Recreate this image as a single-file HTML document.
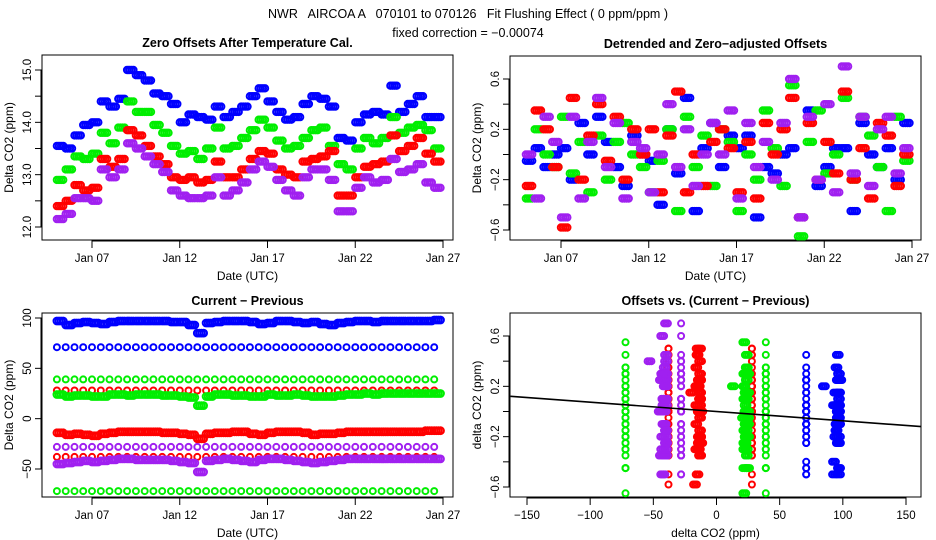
<!DOCTYPE html>
<html><head><meta charset="utf-8"><style>
html,body{margin:0;padding:0;background:#fff;}
svg{display:block;font-family:"Liberation Sans",sans-serif;}
</style></head><body>
<svg id="chart" width="936" height="540" viewBox="0 0 936 540" xmlns="http://www.w3.org/2000/svg">
<rect width="936" height="540" fill="#fff"/>
<text x="468" y="18" text-anchor="middle" font-size="12.5" xml:space="preserve">NWR   AIRCOA A   070101 to 070126   Fit Flushing Effect ( 0 ppm/ppm )</text>
<text x="468" y="37" text-anchor="middle" font-size="12.5">fixed correction = −0.00074</text>
<g id="layer"></g>
</svg>
<script>
// time axis (days of January) and data
const times = [5,5.5,6,6.5,7,7.5,8,8.5,9,9.5,10,10.5,11,11.5,12,12.5,13,13.5,14,14.5,15,15.5,16,16.5,17,17.5,18,18.5,19,19.5,20,20.5,21,21.5,22,22.5,23,23.5,24,24.5,25,25.5,26,26.5];
const offBlue = [13.55,13.5,13.75,13.95,14.0,14.4,14.3,14.45,15.0,14.9,14.8,14.55,14.5,14.35,14.0,14.15,14.1,14.05,14.3,14.1,14.2,14.3,14.5,14.65,14.4,14.2,14.05,14.1,14.35,14.5,14.45,14.3,13.7,13.65,14.0,14.15,14.2,14.15,14.7,14.2,14.35,14.5,14.1,14.1];
const offGreen = [12.9,13.1,13.35,13.3,13.4,13.8,13.6,13.9,14.4,14.2,14.2,13.95,13.8,13.55,13.4,13.45,13.3,13.5,13.9,13.5,13.55,13.7,13.85,14.05,13.9,13.65,13.5,13.55,13.7,13.85,13.9,13.55,13.2,13.1,13.5,13.7,13.6,13.7,14.1,13.8,13.9,13.95,13.85,13.5];
const offRed = [12.4,12.5,12.8,12.7,12.75,13.3,13.15,13.3,13.85,13.75,13.55,13.35,13.2,12.95,12.9,12.95,12.85,12.9,13.25,12.95,12.95,13.1,13.3,13.45,13.4,13.1,13.0,12.95,13.25,13.3,13.35,13.45,12.6,12.6,12.95,13.15,13.2,13.25,13.75,13.45,13.55,13.7,13.4,13.25];
const offPurple = [12.15,12.25,12.55,12.55,12.5,13.1,12.95,13.1,13.6,13.5,13.35,13.2,13.05,12.7,12.6,12.55,12.55,12.6,12.95,12.6,12.7,12.85,13.1,13.25,13.15,12.9,12.7,12.6,12.95,13.1,13.1,12.9,12.3,12.3,12.75,12.95,12.85,12.9,13.3,13.05,13.1,13.2,12.85,12.75];
const detBlue = [-0.05,0.05,-0.1,0.0,0.05,-0.2,0.25,0.0,0.3,0.1,-0.1,-0.25,0.15,0.0,-0.05,-0.4,0.2,-0.15,0.45,-0.45,0.05,0.25,-0.1,0.15,0.05,0.15,-0.5,-0.1,-0.15,0.0,0.05,-0.5,0.35,-0.25,-0.1,0.05,0.05,-0.45,0.25,0.0,-0.1,0.05,-0.2,0.25];
const detGreen = [-0.35,0.2,0.0,-0.1,0.3,-0.15,0.1,-0.3,0.15,-0.2,0.1,0.25,0.0,-0.1,-0.3,-0.05,0.2,-0.45,0.3,-0.1,0.15,-0.25,0.2,0.1,-0.45,0.0,-0.2,0.35,0.05,-0.25,0.55,-0.65,0.1,0.35,-0.15,0.0,0.45,-0.2,0.3,0.15,-0.1,-0.45,0.3,-0.05];
const detRed = [-0.25,0.35,0.2,-0.1,-0.58,0.45,-0.2,0.15,0.4,-0.05,0.3,-0.2,0.2,0.0,0.2,-0.3,0.15,0.5,-0.3,0.0,-0.25,0.1,0.2,0.05,-0.3,0.1,-0.35,0.25,0.0,0.2,0.45,-0.5,0.25,-0.2,0.1,-0.15,0.5,-0.2,0.05,-0.35,0.25,0.15,-0.25,0.0];
const detPurple = [0.0,-0.35,0.3,0.1,-0.5,0.3,-0.35,0.1,0.45,-0.1,0.25,-0.35,0.1,0.05,-0.3,0.0,0.4,-0.1,0.2,-0.25,0.0,0.25,0.0,0.35,-0.35,0.25,-0.1,0.1,-0.2,0.25,0.6,-0.5,0.3,-0.2,0.4,-0.3,0.7,-0.15,0.3,-0.25,0.2,0.3,-0.15,0.05];
const diffBlueHigh = [97,93,95,96,95,94,96,97,97,97,97,97,97,96,96,93,85,95,96,97,97,97,96,94,95,97,97,96,95,96,94,93,95,96,97,97,96,97,97,97,97,97,97,98];
const diffGreenMid = [24,22,23,23,22,22,24,24,23,24,24,24,23,23,22,21,13,22,24,24,23,23,22,22,24,23,23,24,23,22,22,22,23,24,24,25,24,25,25,25,25,25,25,25];
const diffRedNeg = [-14,-16,-15,-16,-17,-15,-14,-13,-13,-13,-13,-13,-14,-14,-15,-16,-20,-15,-14,-14,-13,-13,-15,-16,-14,-13,-13,-13,-14,-16,-15,-15,-14,-13,-13,-13,-13,-13,-13,-13,-13,-13,-12,-12];
const diffPurpleNeg = [-45,-44,-43,-42,-43,-42,-41,-40,-40,-41,-41,-41,-41,-42,-43,-44,-53,-42,-41,-40,-41,-42,-43,-41,-40,-40,-41,-42,-43,-44,-43,-42,-41,-40,-40,-40,-40,-40,-40,-40,-40,-40,-40,-40];
const constLevels = [71,39,-72,28,-38,-28];
const constColors = ['blue','green','green','red','red','purple'];
const fitSlope = -0.00074;
const fitIntercept = 0.0;
const dateTicks = [7,12,17,22,27];
const dateTickLabels = ['Jan 07','Jan 12','Jan 17','Jan 22','Jan 27'];
const offTicks = [12,12.5,13,13.5,14,14.5,15];
const detTicks = [-0.6,-0.4,-0.2,0,0.2,0.4,0.6];
const diffTicks = [-50,0,50,100];
const dxTicks = [-150,-100,-50,0,50,100,150];

const COL = {blue:'#0000ff',green:'#00ee00',red:'#ff0000',purple:'#a020f0'};
const NS='http://www.w3.org/2000/svg';
const layer=document.getElementById('layer');
function mk(tag,attrs,parent){const e=document.createElementNS(NS,tag);for(const k in attrs)e.setAttribute(k,attrs[k]);(parent||layer).appendChild(e);return e;}
function lin(d0,d1,r0,r1){return v=>r0+(v-d0)*(r1-r0)/(d1-d0);}
const REP=[0,0.12,0.24,0.36]; // marker cluster spread per half-day sample (styling)

function panel(cfg){
  const g=mk('g',{});
  
  
  const b=mk('rect',{x:cfg.x0,y:cfg.y0,width:cfg.x1-cfg.x0,height:cfg.y1-cfg.y0,fill:'none',stroke:'#000','stroke-width':1},g);
  
  
  const t=mk('text',{x:(cfg.x0+cfg.x1)/2,y:cfg.y0-8,'text-anchor':'middle','font-size':12.5,'font-weight':'bold'},g);
  t.textContent=cfg.title;
  
  
  const xa=mk('g',{},g);
  
  
  cfg.xt.forEach((v,i)=>{const px=cfg.sx(v);
    mk('line',{x1:px,x2:px,y1:cfg.y1,y2:cfg.y1+8,stroke:'#000'},xa);
    const l=mk('text',{x:px,y:cfg.y1+22,'text-anchor':'middle','font-size':11.5},xa);l.textContent=cfg.xl[i];
    
    });
  mk('line',{x1:cfg.sx(cfg.xt[0]),x2:cfg.sx(cfg.xt[cfg.xt.length-1]),y1:cfg.y1+1,y2:cfg.y1+1,stroke:'#000'},xa);
  const xt=mk('text',{x:(cfg.x0+cfg.x1)/2,y:cfg.y1+40,'text-anchor':'middle','font-size':12},g);xt.textContent=cfg.xtitle;
  
  
  const ya=mk('g',{},g);
  
  
  cfg.yt.forEach((v,i)=>{const py=cfg.sy(v);
    mk('line',{x1:cfg.x0-7,x2:cfg.x0,y1:py,y2:py,stroke:'#000'},ya);
    if(cfg.yl[i]!==''){const l=mk('text',{x:0,y:0,'text-anchor':'middle','font-size':11.5,transform:`translate(${cfg.x0-11},${py}) rotate(-90)`},ya);l.textContent=cfg.yl[i];
    
    }});
  mk('line',{x1:cfg.x0-1,x2:cfg.x0-1,y1:cfg.sy(cfg.yt[0]),y2:cfg.sy(cfg.yt[cfg.yt.length-1]),stroke:'#000'},ya);
  const yt=mk('text',{x:0,y:0,'text-anchor':'middle','font-size':12,transform:`translate(${cfg.x0-29},${(cfg.y0+cfg.y1)/2}) rotate(-90)`},g);yt.textContent=cfg.ytitle;
  
  
  const pts=mk('g',{},g);
  
  
  return pts;
}
function dot(g,x,y,color,r){
  const c=mk('circle',{cx:x.toFixed(1),cy:y.toFixed(1),r:r||3,fill:'none',stroke:COL[color],'stroke-width':2},g);
  
  
}
const fmt=v=>(v<0?'−':'')+Math.abs(v).toFixed(1);

// Panel 1
const sx1=lin(7,27,92,443), sy1=lin(12,15,227,70);
const p1=panel({name:'zero-offsets-panel',x0:42,x1:453,y0:55,y1:240,sx:sx1,sy:sy1,title:'Zero Offsets After Temperature Cal.',xtitle:'Date (UTC)',ytitle:'Delta CO2 (ppm)',xt:dateTicks,xl:dateTickLabels,yt:offTicks,yl:offTicks.map(v=>Number.isInteger(v)?v.toFixed(1):'')});
[[offBlue,'blue'],[offGreen,'green'],[offRed,'red'],[offPurple,'purple']].forEach(([a,c])=>a.forEach((v,i)=>REP.forEach(d=>dot(p1,sx1(times[i]+d),sy1(v),c,3.2))));

// Panel 2
const sx2=lin(7,27,561,912), sy2=lin(-0.6,0.6,230,79);
const p2=panel({name:'detrended-offsets-panel',x0:510,x1:921,y0:56,y1:240,sx:sx2,sy:sy2,title:'Detrended and Zero−adjusted Offsets',xtitle:'Date (UTC)',ytitle:'Delta CO2 (ppm)',xt:dateTicks,xl:dateTickLabels,yt:detTicks,yl:detTicks.map((v,i)=>i%2===0?fmt(v):'')});
[[detBlue,'blue'],[detGreen,'green'],[detRed,'red'],[detPurple,'purple']].forEach(([a,c])=>a.forEach((v,i)=>REP.forEach(d=>dot(p2,sx2(times[i]+d),sy2(v),c,3.2))));

// Panel 3
const sx3=lin(7,27,92,443), sy3=lin(-50,100,469,318);
const p3=panel({name:'current-minus-previous-panel',x0:42,x1:453,y0:313,y1:497,sx:sx3,sy:sy3,title:'Current − Previous',xtitle:'Date (UTC)',ytitle:'Delta CO2 (ppm)',xt:dateTicks,xl:dateTickLabels,yt:diffTicks,yl:diffTicks.map(v=>(v<0?'−':'')+Math.abs(v))});
constLevels.forEach((lv,k)=>times.forEach(t=>dot(p3,sx3(t),sy3(lv),constColors[k],3)));
[[diffGreenMid,'green'],[diffRedNeg,'red'],[diffPurpleNeg,'purple'],[diffBlueHigh,'blue']].forEach(([a,c])=>a.forEach((v,i)=>REP.forEach(d=>dot(p3,sx3(times[i]+d),sy3(v),c,3.4))));

// Panel 4
const sx4=lin(-150,150,527,906), sy4=lin(-0.6,0.6,487,336);
const p4=panel({name:'offsets-vs-difference-panel',x0:510,x1:921,y0:313,y1:497,sx:sx4,sy:sy4,title:'Offsets vs. (Current − Previous)',xtitle:'delta CO2 (ppm)',ytitle:'delta CO2 (ppm)',xt:dxTicks,xl:dxTicks.map(v=>(v<0?'−':'')+Math.abs(v)),yt:detTicks,yl:detTicks.map((v,i)=>i%2===0?fmt(v):'')});
const scat=[[constLevels[0],detBlue,'blue'],[constLevels[1],detGreen,'green'],[constLevels[2],detGreen,'green'],[constLevels[3],detRed,'red'],[constLevels[4],detRed,'red'],[constLevels[5],detPurple,'purple']];
scat.forEach(([lv,a,c])=>a.forEach(v=>dot(p4,sx4(lv),sy4(v),c,3)));
[[diffBlueHigh,detBlue,'blue'],[diffGreenMid,detGreen,'green'],[diffRedNeg,detRed,'red'],[diffPurpleNeg,detPurple,'purple']].forEach(([xa,ya,c])=>xa.forEach((v,i)=>[-1.5,0,1.5].forEach(d=>dot(p4,sx4(v+d),sy4(ya[i]),c,3))));
const xl0=-163,xl1=162;
const fl=mk('line',{x1:sx4(xl0),y1:sy4(fitIntercept+fitSlope*xl0),x2:sx4(xl1),y2:sy4(fitIntercept+fitSlope*xl1),stroke:'#000','stroke-width':1.6},p4);


</script>
</body></html>
